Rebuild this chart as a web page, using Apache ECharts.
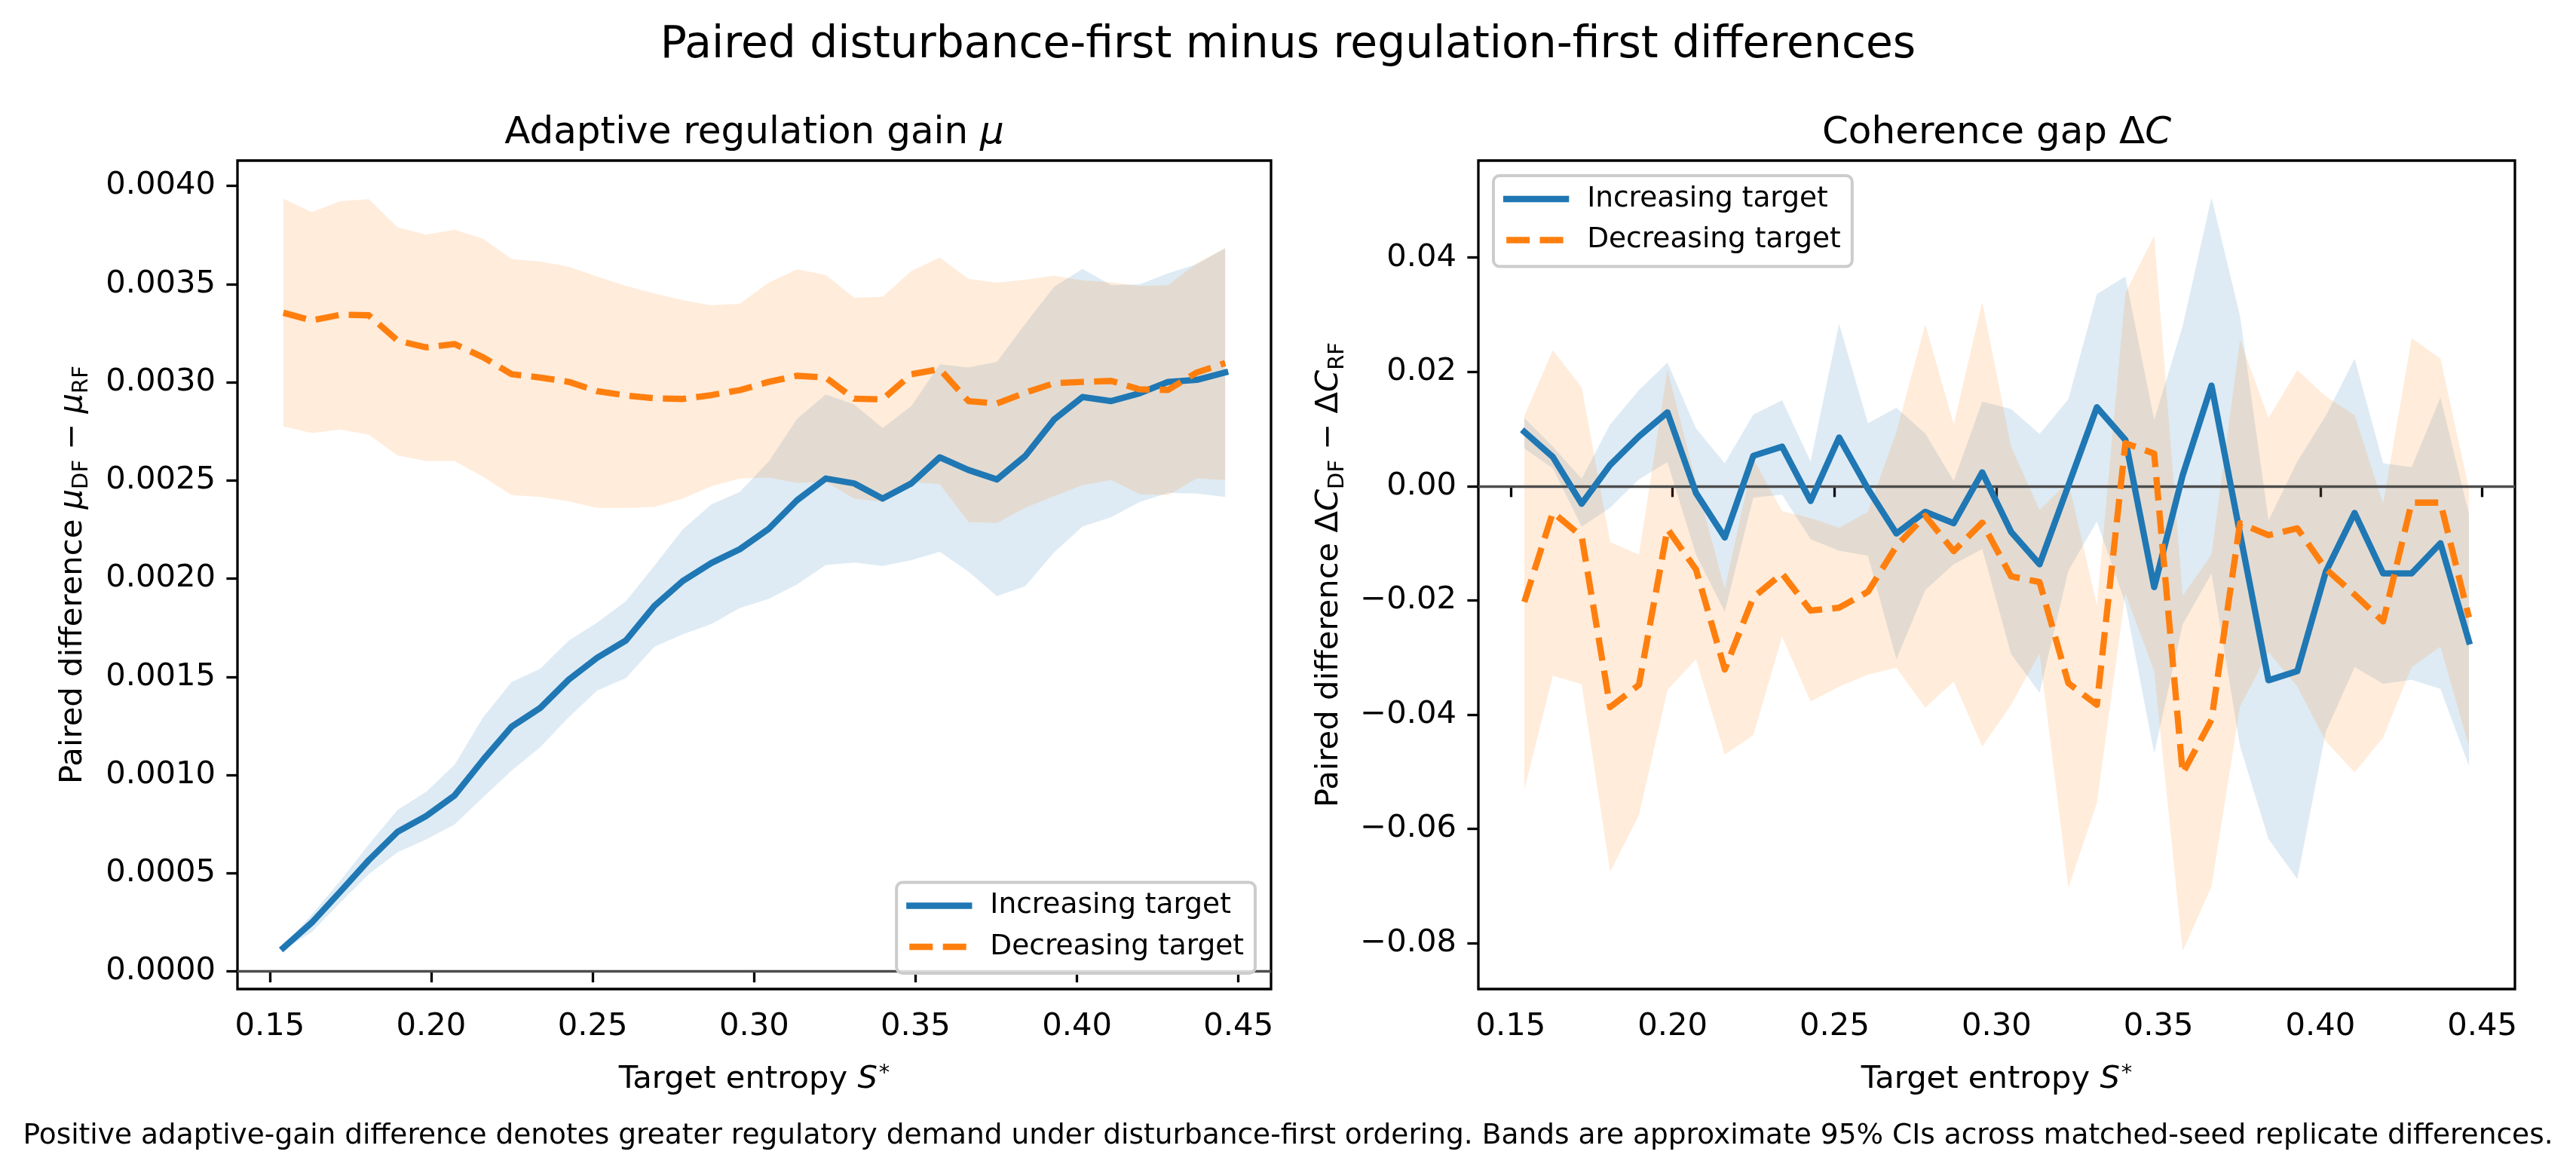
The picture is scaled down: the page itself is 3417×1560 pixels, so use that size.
<!DOCTYPE html>
<html>
<head>
<meta charset="utf-8">
<script src="https://cdn.jsdelivr.net/npm/echarts@6.0.0/dist/echarts.min.js"></script>
<style>
  html, body { margin: 0; padding: 0; background: #ffffff; }
  #chart { width: 3417px; height: 1560px; }
</style>
</head>
<body>
<div id="chart"></div>
<script>
// target entropy S* (shared by both panels)
const entropy = [0.1542, 0.1630, 0.1719, 0.1807, 0.1896, 0.1984, 0.2072, 0.2161, 0.2249, 0.2338,
  0.2426, 0.2514, 0.2603, 0.2691, 0.2780, 0.2868, 0.2956, 0.3045, 0.3133, 0.3222,
  0.3310, 0.3398, 0.3487, 0.3575, 0.3664, 0.3752, 0.3840, 0.3929, 0.4017, 0.4106,
  0.4194, 0.4282, 0.4371, 0.4459];

// left panel: adaptive regulation gain difference
const muIncMean = [0.000120, 0.000248, 0.000407, 0.000567, 0.000711, 0.000791, 0.000895, 0.001078, 0.001246, 0.001342,
  0.001486, 0.001597, 0.001685, 0.001861, 0.001989, 0.002080, 0.002150, 0.002253, 0.002399, 0.002510,
  0.002485, 0.002408, 0.002485, 0.002618, 0.002553, 0.002505, 0.002625, 0.002810, 0.002925, 0.002904,
  0.002944, 0.003002, 0.003012, 0.003050];
const muIncLo = [0.000109, 0.000200, 0.000351, 0.000495, 0.000607, 0.000671, 0.000748, 0.000887, 0.001022, 0.001142,
  0.001294, 0.001430, 0.001494, 0.001653, 0.001717, 0.001769, 0.001851, 0.001897, 0.001971, 0.002069,
  0.002082, 0.002065, 0.002094, 0.002137, 0.002036, 0.001911, 0.001962, 0.002134, 0.002265, 0.002313,
  0.002390, 0.002437, 0.002433, 0.002416];
const muIncHi = [0.000131, 0.000288, 0.000463, 0.000647, 0.000823, 0.000914, 0.001051, 0.001294, 0.001473, 0.001542,
  0.001685, 0.001776, 0.001885, 0.002065, 0.002253, 0.002378, 0.002442, 0.002596, 0.002813, 0.002938,
  0.002887, 0.002767, 0.002878, 0.003092, 0.003075, 0.003104, 0.003298, 0.003486, 0.003577, 0.003495,
  0.003498, 0.003555, 0.003601, 0.003683];
const muDecMean = [0.003354, 0.003315, 0.003344, 0.003341, 0.003212, 0.003178, 0.003195, 0.003127, 0.003041, 0.003024,
  0.003002, 0.002955, 0.002933, 0.002918, 0.002915, 0.002935, 0.002960, 0.003002, 0.003033, 0.003024,
  0.002916, 0.002913, 0.003041, 0.003067, 0.002904, 0.002892, 0.002947, 0.002995, 0.003002, 0.003007,
  0.002964, 0.002961, 0.003050, 0.003098];
const muDecLo = [0.002776, 0.002741, 0.002759, 0.002733, 0.002627, 0.002599, 0.002599, 0.002519, 0.002425, 0.002416,
  0.002394, 0.002360, 0.002360, 0.002365, 0.002408, 0.002471, 0.002510, 0.002515, 0.002488, 0.002493,
  0.002408, 0.002391, 0.002493, 0.002481, 0.002288, 0.002283, 0.002361, 0.002420, 0.002476, 0.002502,
  0.002430, 0.002425, 0.002510, 0.002502];
const muDecHi = [0.003935, 0.003866, 0.003923, 0.003932, 0.003789, 0.003752, 0.003777, 0.003731, 0.003628, 0.003615,
  0.003589, 0.003538, 0.003491, 0.003452, 0.003418, 0.003392, 0.003401, 0.003507, 0.003575, 0.003546,
  0.003430, 0.003435, 0.003567, 0.003635, 0.003526, 0.003507, 0.003522, 0.003543, 0.003519, 0.003509,
  0.003491, 0.003495, 0.003606, 0.003683];

// right panel: coherence gap difference
const dcIncMean = [0.0095, 0.0051, -0.0031, 0.0037, 0.0087, 0.0129, -0.0012, -0.0090, 0.0053, 0.0069,
  -0.0026, 0.0085, -0.0005, -0.0083, -0.0045, -0.0065, 0.0024, -0.0080, -0.0137, 0.0001,
  0.0138, 0.0081, -0.0177, 0.0019, 0.0176, -0.0083, -0.0340, -0.0324, -0.0150, -0.0047,
  -0.0153, -0.0153, -0.0100, -0.0272];
const dcIncLo = [0.0066, 0.0031, -0.0071, -0.0038, 0.0012, 0.0042, -0.0120, -0.0220, -0.0020, -0.0015,
  -0.0093, -0.0113, -0.0122, -0.0303, -0.0182, -0.0137, -0.0110, -0.0294, -0.0362, -0.0148,
  -0.0062, -0.0205, -0.0468, -0.0242, -0.0153, -0.0455, -0.0618, -0.0688, -0.0430, -0.0317,
  -0.0346, -0.0339, -0.0355, -0.0490];
const dcIncHi = [0.0119, 0.0069, 0.0013, 0.0108, 0.0168, 0.0216, 0.0101, 0.0040, 0.0125, 0.0150,
  0.0043, 0.0284, 0.0110, 0.0137, 0.0092, 0.0009, 0.0148, 0.0135, 0.0091, 0.0152,
  0.0336, 0.0367, 0.0116, 0.0280, 0.0505, 0.0298, -0.0060, 0.0043, 0.0123, 0.0223,
  0.0040, 0.0033, 0.0155, -0.0049];
const dcDecMean = [-0.0203, -0.0046, -0.0088, -0.0387, -0.0348, -0.0075, -0.0146, -0.0321, -0.0195, -0.0153,
  -0.0218, -0.0213, -0.0185, -0.0105, -0.0052, -0.0114, -0.0064, -0.0158, -0.0168, -0.0345,
  -0.0383, 0.0075, 0.0057, -0.0503, -0.0409, -0.0065, -0.0086, -0.0074, -0.0145, -0.0190,
  -0.0237, -0.0029, -0.0029, -0.0230];
const dcDecLo = [-0.0531, -0.0332, -0.0347, -0.0675, -0.0576, -0.0357, -0.0303, -0.0470, -0.0436, -0.0264,
  -0.0377, -0.0351, -0.0330, -0.0318, -0.0388, -0.0342, -0.0456, -0.0383, -0.0293, -0.0703,
  -0.0555, -0.0188, -0.0324, -0.0814, -0.0701, -0.0386, -0.0291, -0.0351, -0.0447, -0.0501,
  -0.0440, -0.0317, -0.0281, -0.0456];
const dcDecHi = [0.0123, 0.0238, 0.0173, -0.0098, -0.0120, 0.0204, 0.0008, -0.0180, 0.0048, -0.0044,
  -0.0056, -0.0073, -0.0045, 0.0095, 0.0283, 0.0108, 0.0322, 0.0069, -0.0042, 0.0008,
  -0.0208, 0.0338, 0.0438, -0.0192, -0.0120, 0.0256, 0.0119, 0.0203, 0.0157, 0.0124,
  -0.0031, 0.0259, 0.0223, -0.0005];

// tick labels
const entropyTicks = [0.15, 0.20, 0.25, 0.30, 0.35, 0.40, 0.45];
const muTicks = [0, 0.0005, 0.001, 0.0015, 0.002, 0.0025, 0.003, 0.0035, 0.004];
const dcTicks = [-0.08, -0.06, -0.04, -0.02, 0, 0.02, 0.04];

const FONT = 'DejaVu Sans';
const C0 = '#1f77b4';
const C1 = '#ff7f0e';
const TICK_FS = 41.7;
const LW = 8.3;

const base = { fontFamily: FONT, color: '#000', fontSize: TICK_FS, lineHeight: 56 };
const nameRich = {
  t: base,
  i: Object.assign({}, base, { fontStyle: 'italic' }),
  s: { fontFamily: FONT, color: '#000', fontSize: 29, lineHeight: 56, padding: [22, 0, 0, 0] },
  sup: { fontFamily: FONT, color: '#000', fontSize: 29, lineHeight: 56, padding: [0, 0, 16, 2] }
};
const titleRich = {
  t: { fontFamily: FONT, fill: '#000', fontSize: 50 },
  i: { fontFamily: FONT, fill: '#000', fontSize: 50, fontStyle: 'italic' }
};

// shaded CI band drawn as one polygon through the axis scales
function band(idx, lo, hi, fill) {
  return {
    type: 'custom',
    xAxisIndex: idx,
    yAxisIndex: idx,
    z: 1,
    silent: true,
    data: entropy.map((x, i) => [x, lo[i], hi[i]]),
    encode: { x: 0, y: [1, 2] },
    renderItem: function (params, api) {
      if (params.dataIndex !== 0) return null;
      const pts = [];
      for (let i = 0; i < entropy.length; i++) pts.push(api.coord([entropy[i], hi[i]]));
      for (let i = entropy.length - 1; i >= 0; i--) pts.push(api.coord([entropy[i], lo[i]]));
      return { type: 'polygon', shape: { points: pts }, style: { fill: fill } };
    }
  };
}

function meanLine(idx, name, vals, color, dashed, z) {
  return {
    type: 'line',
    name: name,
    xAxisIndex: idx,
    yAxisIndex: idx,
    z: z,
    silent: true,
    symbol: 'none',
    showSymbol: false,
    data: entropy.map((x, i) => [x, vals[i]]),
    itemStyle: { color: color },
    lineStyle: {
      color: color,
      width: LW,
      type: dashed ? [31, 13.4] : 'solid',
      cap: dashed ? 'butt' : 'square',
      join: 'round'
    },
    markLine: dashed ? undefined : {
      silent: true,
      symbol: 'none',
      z: 2,
      label: { show: false },
      lineStyle: { color: '#4d4d4d', width: 3.3, type: 'solid' },
      data: [{ yAxis: 0 }]
    }
  };
}

function xAxisFor(idx) {
  return {
    type: 'value',
    gridIndex: idx,
    min: 0.1400,
    max: 0.4601,
    axisLine: { show: false },
    splitLine: { show: false },
    axisTick: { show: true, length: 14.6, customValues: entropyTicks, lineStyle: { color: '#000', width: 3.3 } },
    axisLabel: {
      customValues: entropyTicks,
      formatter: v => v.toFixed(2),
      fontFamily: FONT, fontSize: TICK_FS, color: '#000', margin: 29
    },
    name: '{t|Target entropy }{i|S}{sup|*}',
    nameLocation: 'middle',
    nameGap: 92,
    nameTextStyle: { rich: nameRich }
  };
}

function legendFor(pos) {
  return Object.assign({
    data: ['Increasing target', 'Decreasing target'],
    orient: 'vertical',
    itemWidth: 79,
    itemHeight: 20,
    itemGap: 10.5,
    padding: [9, 15, 13, 13],
    backgroundColor: 'rgba(255,255,255,0.8)',
    borderColor: '#cccccc',
    borderWidth: 4,
    borderRadius: 8,
    selectedMode: false,
    itemStyle: { opacity: 0 },
    lineStyle: { width: LW },
    textStyle: { fontFamily: FONT, fontSize: 37.5, color: '#000', lineHeight: 44, padding: [0, 0, 0, 23] }
  }, pos);
}

const option = {
  animation: false,
  backgroundColor: '#ffffff',
  grid: [
    { left: 315, top: 213, width: 1371, height: 1099, show: true, borderColor: '#000', borderWidth: 3.3, backgroundColor: 'transparent' },
    { left: 1961, top: 213, width: 1375, height: 1099, show: true, borderColor: '#000', borderWidth: 3.3, backgroundColor: 'transparent' }
  ],
  xAxis: [xAxisFor(0), xAxisFor(1)],
  yAxis: [
    {
      type: 'value',
      gridIndex: 0,
      min: -0.00009,
      max: 0.004129,
      axisLine: { show: false },
      splitLine: { show: false },
      axisTick: { show: true, length: 14.6, customValues: muTicks, lineStyle: { color: '#000', width: 3.3 } },
      axisLabel: {
        customValues: muTicks,
        formatter: v => v.toFixed(4),
        fontFamily: FONT, fontSize: TICK_FS, color: '#000', margin: 29
      },
      name: '{t|Paired difference }{i|μ}{s|DF}{t| − }{i|μ}{s|RF}',
      nameLocation: 'middle',
      nameGap: 190,
      nameTextStyle: { rich: nameRich }
    },
    {
      type: 'value',
      gridIndex: 1,
      min: -0.08805,
      max: 0.05698,
      axisLine: { show: false },
      splitLine: { show: false },
      axisTick: { show: true, length: 14.6, customValues: dcTicks, lineStyle: { color: '#000', width: 3.3 } },
      axisLabel: {
        customValues: dcTicks,
        formatter: v => (v < -1e-9 ? '\u2212' : '') + Math.abs(v).toFixed(2),
        fontFamily: FONT, fontSize: TICK_FS, color: '#000', margin: 29
      },
      name: '{t|Paired difference Δ}{i|C}{s|DF}{t| − Δ}{i|C}{s|RF}',
      nameLocation: 'middle',
      nameGap: 170,
      nameTextStyle: { rich: nameRich }
    }
  ],
  legend: [
    legendFor({ right: 1752, bottom: 269 }),
    legendFor({ left: 1981, top: 233 })
  ],
  graphic: [
    {
      type: 'text', x: 1708.5, y: 61,
      style: { text: 'Paired disturbance-first minus regulation-first differences', font: '58.3px "DejaVu Sans"', fill: '#000', align: 'center', verticalAlign: 'middle' }
    },
    {
      type: 'text', x: 1000.5, y: 177,
      style: { text: '{t|Adaptive regulation gain }{i|μ}', rich: titleRich, font: '50px "DejaVu Sans"', fill: '#000', align: 'center', verticalAlign: 'middle' }
    },
    {
      type: 'text', x: 2648.5, y: 177,
      style: { text: '{t|Coherence gap Δ}{i|C}', rich: titleRich, font: '50px "DejaVu Sans"', fill: '#000', align: 'center', verticalAlign: 'middle' }
    },
    {
      type: 'text', x: 1708.5, y: 1507,
      style: {
        text: 'Positive adaptive-gain difference denotes greater regulatory demand under disturbance-first ordering. Bands are approximate 95% CIs across matched-seed replicate differences.',
        font: '37.5px "DejaVu Sans"', fill: '#000', align: 'center', verticalAlign: 'middle'
      }
    }
  ],
  series: [
    band(0, muIncLo, muIncHi, 'rgba(31,119,180,0.15)'),
    band(0, muDecLo, muDecHi, 'rgba(255,127,14,0.15)'),
    meanLine(0, 'Increasing target', muIncMean, C0, false, 3),
    meanLine(0, 'Decreasing target', muDecMean, C1, true, 4),
    band(1, dcIncLo, dcIncHi, 'rgba(31,119,180,0.15)'),
    band(1, dcDecLo, dcDecHi, 'rgba(255,127,14,0.15)'),
    meanLine(1, 'Increasing target', dcIncMean, C0, false, 3),
    meanLine(1, 'Decreasing target', dcDecMean, C1, true, 4)
  ]
};

const chart = echarts.init(document.getElementById('chart'));
chart.setOption(option);
</script>
</body>
</html>
